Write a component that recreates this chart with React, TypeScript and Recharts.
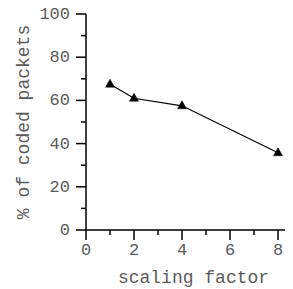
import React from "react";
import { LineChart, Line, XAxis, YAxis } from "recharts";

const scalingFactors = [1, 2, 4, 8];
const codedPercent = [67.5, 61, 57.5, 35.8];
const xTicks = [0, 1, 2, 3, 4, 5, 6, 7, 8];
const xLabelTicks = [0, 2, 4, 6, 8];
const yTicks = [0, 10, 20, 30, 40, 50, 60, 70, 80, 90, 100];
const yLabelTicks = [0, 20, 40, 60, 80, 100];

const data = scalingFactors.map((s, i) => ({ x: s, y: codedPercent[i] }));

const FONT = "'Liberation Mono', 'DejaVu Sans Mono', monospace";
const TEXT = "#5a5a5a";

const XTick = (props: any) => {
  const { x, y, payload } = props;
  const major = xLabelTicks.includes(payload.value);
  return (
    <g>
      <line x1={x} x2={x} y1={y} y2={y + (major ? 10 : 5)} stroke="#000" strokeWidth={1.5} />
      {major && (
        <text x={x} y={y + 25} textAnchor="middle" fontFamily={FONT} fontSize={17} fill={TEXT}>
          {payload.value}
        </text>
      )}
    </g>
  );
};

const YTick = (props: any) => {
  const { x, y, payload } = props;
  const major = yLabelTicks.includes(payload.value);
  return (
    <g>
      <line x1={x} x2={x - (major ? 10 : 5)} y1={y} y2={y} stroke="#000" strokeWidth={1.5} />
      {major && (
        <text x={x - 16} y={y + 5} textAnchor="end" fontFamily={FONT} fontSize={17} fill={TEXT}>
          {payload.value}
        </text>
      )}
    </g>
  );
};

const Tri = (props: any) => {
  const { cx, cy } = props;
  if (cx == null || cy == null) return null;
  return (
    <polygon
      points={`${cx},${cy - 5} ${cx - 4.5},${cy + 3} ${cx + 4.5},${cy + 3}`}
      fill="#000"
      stroke="#000"
      strokeWidth={0.5}
    />
  );
};

export default function App() {
  return (
    <div style={{ marginLeft: -8, marginTop: -8, width: 293, height: 289, background: "#fff" }}>
      <LineChart width={293} height={289} data={data} margin={{ top: 14, right: 0, bottom: 0, left: 0 }}>
        <XAxis
          dataKey="x"
          type="number"
          domain={[0, 8.625]}
          ticks={xTicks}
          interval={0}
          tickSize={0}
          tickMargin={0}
          tickLine={false}
          tick={<XTick />}
          stroke="#000"
          strokeWidth={1.5}
          height={59}
          label={{
            value: "scaling factor",
            position: "insideBottom",
            offset: 6,
            dx: 4,
            style: { fontFamily: FONT, fontSize: 18, fill: TEXT },
          }}
        />
        <YAxis
          type="number"
          domain={[0, 100]}
          ticks={yTicks}
          interval={0}
          tickSize={0}
          tickMargin={0}
          tickLine={false}
          tick={<YTick />}
          stroke="#000"
          strokeWidth={1.5}
          width={86}
          label={{
            value: "% of coded packets",
            angle: -90,
            position: "insideLeft",
            offset: 23,
            style: { fontFamily: FONT, fontSize: 18, fill: TEXT, textAnchor: "middle" },
          }}
        />
        <Line
          dataKey="y"
          stroke="#000"
          strokeWidth={1.2}
          dot={<Tri />}
          isAnimationActive={false}
        />
      </LineChart>
    </div>
  );
}
